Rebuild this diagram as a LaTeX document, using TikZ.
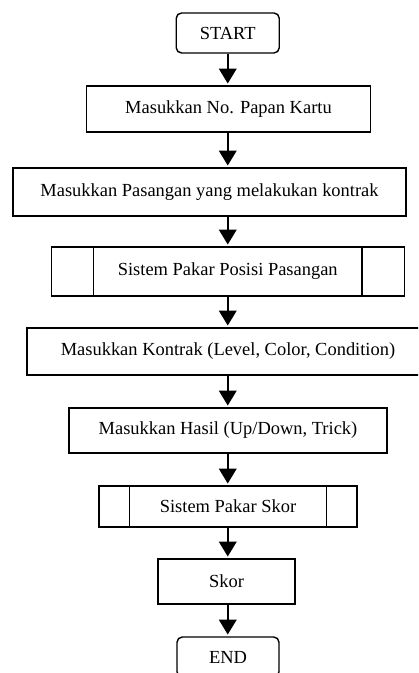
\documentclass[tikz,border=0pt]{standalone}
\usepackage{fontspec}
\setmainfont{Liberation Serif}
\usetikzlibrary{arrows.meta}
\begin{document}
\begin{tikzpicture}[
	every node/.style={font=\fontsize{10.5}{12}\selectfont},
	terminal/.style={draw, line width=0.8pt, rounded corners=3pt, inner sep=0pt},
	proses/.style={draw, line width=0.8pt, inner sep=0pt},
	panah/.style={line width=1.1pt, -{Triangle[width=10pt,length=8.5pt]}, shorten >=1pt}
]
\useasboundingbox (0,0) rectangle (8.36,-13.46);
\clip (0,0) rectangle (8.36,-13.46);

\coordinate (mid) at (4.555,0);

\node[terminal, minimum width=2.06cm, minimum height=0.8cm] (start) at (4.555,-0.66) {START};
\node[proses, minimum width=5.68cm, minimum height=0.92cm] (papan) at (4.57,-2.18) {Masukkan No. Papan Kartu};
\node[proses, minimum width=7.86cm, minimum height=0.96cm] (pasangan) at (4.19,-3.84) {Masukkan Pasangan yang melakukan kontrak};
\node[proses, minimum width=7.06cm, minimum height=0.98cm] (posisi) at (4.555,-5.43) {Sistem Pakar Posisi Pasangan};
\node[proses, minimum width=8.04cm, minimum height=0.94cm] (kontrak) at (4.56,-7.03) {Masukkan Kontrak (Level, Color, Condition)};
\node[proses, minimum width=6.36cm, minimum height=0.90cm] (hasil) at (4.56,-8.61) {Masukkan Hasil (Up/Down, Trick)};
\node[proses, minimum width=5.16cm, minimum height=0.82cm] (pakarskor) at (4.56,-10.13) {Sistem Pakar Skor};
\node[proses, minimum width=2.74cm, minimum height=0.90cm] (skor) at (4.53,-11.63) {Skor};
\node[terminal, minimum width=2.04cm, minimum height=0.8cm] (end) at (4.56,-13.14) {END};

% garis sub proses
\draw[line width=0.8pt] ([xshift=0.86cm]posisi.north west) -- ([xshift=0.86cm]posisi.south west);
\draw[line width=0.8pt] ([xshift=-0.86cm]posisi.north east) -- ([xshift=-0.86cm]posisi.south east);
\draw[line width=0.8pt] ([xshift=0.62cm]pakarskor.north west) -- ([xshift=0.62cm]pakarskor.south west);
\draw[line width=0.8pt] ([xshift=-0.62cm]pakarskor.north east) -- ([xshift=-0.62cm]pakarskor.south east);

% alur
\foreach \a/\b in {start/papan, papan/pasangan, pasangan/posisi, posisi/kontrak, kontrak/hasil, hasil/pakarskor, pakarskor/skor, skor/end}
	\draw[panah] (\a.south -| mid) -- (\b.north -| mid);
\end{tikzpicture}
\end{document}
